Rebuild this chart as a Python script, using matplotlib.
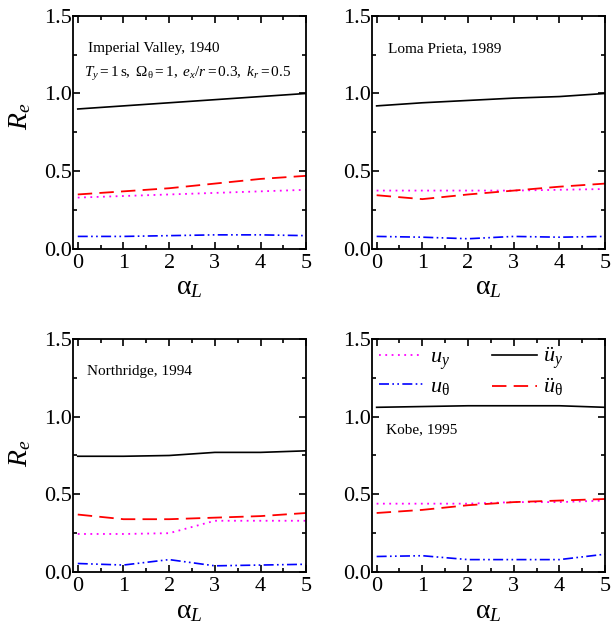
import numpy as np
import matplotlib
matplotlib.use("Agg")
import matplotlib.pyplot as plt
from matplotlib.ticker import MultipleLocator

plt.rcParams['font.family'] = ['Liberation Serif', 'DejaVu Serif']
plt.rcParams['mathtext.fontset'] = 'custom'
plt.rcParams['mathtext.rm'] = 'Liberation Serif'
plt.rcParams['mathtext.it'] = 'Liberation Serif:italic'
plt.rcParams['mathtext.bf'] = 'Liberation Serif:bold'

# alpha_L values
alpha_L = [0, 1, 2, 3, 4, 5]

titles = ['Imperial Valley, 1940', 'Loma Prieta, 1989', 'Northridge, 1994', 'Kobe, 1995']

# R_e for each record
u_y = [
    [0.33, 0.34, 0.35, 0.36, 0.37, 0.38],
    [0.375, 0.375, 0.375, 0.375, 0.38, 0.385],
    [0.245, 0.245, 0.25, 0.33, 0.33, 0.33],
    [0.44, 0.44, 0.44, 0.45, 0.45, 0.46],
]
u_th = [
    [0.08, 0.08, 0.085, 0.09, 0.09, 0.085],
    [0.08, 0.075, 0.065, 0.08, 0.075, 0.08],
    [0.055, 0.045, 0.08, 0.04, 0.045, 0.05],
    [0.10, 0.105, 0.08, 0.08, 0.08, 0.115],
]
acc_y = [
    [0.90, 0.92, 0.94, 0.96, 0.98, 1.00],
    [0.92, 0.94, 0.955, 0.97, 0.98, 1.00],
    [0.745, 0.745, 0.75, 0.77, 0.77, 0.78],
    [1.06, 1.065, 1.07, 1.07, 1.07, 1.06],
]
acc_th = [
    [0.35, 0.37, 0.39, 0.42, 0.45, 0.47],
    [0.345, 0.32, 0.35, 0.375, 0.40, 0.42],
    [0.37, 0.34, 0.34, 0.35, 0.36, 0.38],
    [0.38, 0.40, 0.43, 0.45, 0.46, 0.47],
]

fig = plt.figure(figsize=(6.15, 6.3), dpi=100)
positions = [
    [0.119, 0.605, 0.379, 0.370],
    [0.605, 0.605, 0.379, 0.370],
    [0.119, 0.092, 0.379, 0.370],
    [0.605, 0.092, 0.379, 0.370],
]
text_pos = [(0.065, 0.86), (0.07, 0.86), (0.06, 0.86), (0.06, 0.61)]
ylabel_y = [0.57, None, 0.51, None]

for i in range(4):
    ax = fig.add_axes(positions[i])
    ax.plot(alpha_L, u_y[i], color='magenta', ls=(0, (1, 2.5)), lw=1.3, label=r'$u_y$')
    ax.plot(alpha_L, u_th[i], color='blue', ls=(0, (6, 2, 1, 2, 1, 2)), lw=1.2,
            label=r'$u_\mathrm{\theta}$')
    ax.plot(alpha_L, acc_y[i], color='black', ls='-', lw=1.2, label=r'$\ddot{u}_y$')
    ax.plot(alpha_L, acc_th[i], color='red', ls=(0, (8, 4)), lw=1.3,
            label=r'$\ddot{u}_\mathrm{\theta}$')

    ax.set_xlim(-0.1, 5)
    ax.set_ylim(0, 1.5)
    ax.xaxis.set_major_locator(MultipleLocator(1))
    ax.xaxis.set_minor_locator(MultipleLocator(0.5))
    ax.yaxis.set_minor_locator(MultipleLocator(0.25))
    ax.yaxis.set_ticks([0, 0.5, 1.0, 1.5])
    ax.set_yticklabels(['0.0', '0.5', '1.0', '1.5'])
    ax.tick_params(which='both', direction='in', top=True, right=True, labelsize=16,
                   width=1.2)
    ax.tick_params(which='major', length=5)
    ax.tick_params(which='minor', length=3)
    ax.tick_params(axis='y', pad=1)
    for s in ax.spines.values():
        s.set_linewidth(1.3)

    ax.set_xlabel('α$_L$', fontsize=20, labelpad=2)
    if i % 2 == 0:
        ax.set_ylabel('$R_e$', fontsize=20)
        ax.yaxis.set_label_coords(-0.17, ylabel_y[i])

    ax.text(text_pos[i][0], text_pos[i][1], titles[i], transform=ax.transAxes,
            fontsize=11, va='center')
    if i == 0:
        ax.text(0.045, 0.75,
                r'$T_y = 1\,\mathrm{s},\ \Omega_\mathrm{\theta} = 1,\ e_x/r = 0.3,\ k_r = 0.5$',
                transform=ax.transAxes, fontsize=11, va='center')
    if i == 3:
        ax.legend(ncol=2, loc='upper left', frameon=False, fontsize=16,
                  handlelength=2.0, columnspacing=1.9, labelspacing=0.2,
                  borderaxespad=0.0, borderpad=0.3, handletextpad=0.3)

fig.savefig('out.png', dpi=100)
